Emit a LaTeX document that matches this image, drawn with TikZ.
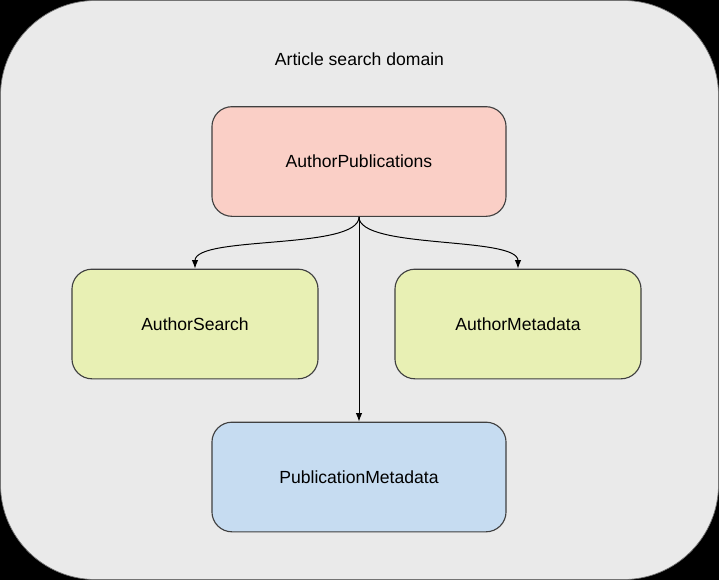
\documentclass[tikz,border=0pt]{standalone}
\usepackage{fontspec}
\setmainfont{Liberation Sans}
\usetikzlibrary{arrows.meta}
\definecolor{domaingray}{HTML}{EAEAEA}
\definecolor{pubred}{HTML}{FACFC6}
\definecolor{metagreen}{HTML}{E8F0B4}
\definecolor{pubblue}{HTML}{C6DCF1}
\begin{document}
\begin{tikzpicture}[>={Latex[length=6pt,width=4.5pt]},x=0.025cm,y=-0.025cm,
  label font/.style={font=\fontsize{12.5}{15}\selectfont},
  box/.style={draw=black!75,line width=0.8pt,rounded corners=0.5cm,
    minimum width=7.35cm,minimum height=2.74cm,label font},
  smallbox/.style={box,fill=metagreen,minimum width=6.15cm}]
\def\lo{0.5}
% domain frame
\fill[black] (0,0) rectangle (719,580);
\draw[fill=domaingray,draw=black!55,line width=0.5pt,rounded corners=2.375cm]
  (0.5,0.5) rectangle (718.5,579.5);
\node[label font] (title) at (359.5,59) {Article search domain};
% services
\node[box,fill=pubred] (pubs) at (359,161.5) {AuthorPublications};
\node[smallbox] (search) at (195,324) {AuthorSearch};
\node[smallbox] (meta) at (518,324) {AuthorMetadata};
\node[box,fill=pubblue] (pubmeta) at (359,477) {PublicationMetadata};
% calls
\draw[->,line width=0.7pt] (pubs.south) to[out=-90,in=90,looseness=\lo] (search.north);
\draw[->,line width=0.7pt] (pubs.south) to[out=-90,in=90,looseness=\lo] (meta.north);
\draw[->,line width=0.7pt] (pubs.south) -- (pubmeta.north);
\end{tikzpicture}
\end{document}
